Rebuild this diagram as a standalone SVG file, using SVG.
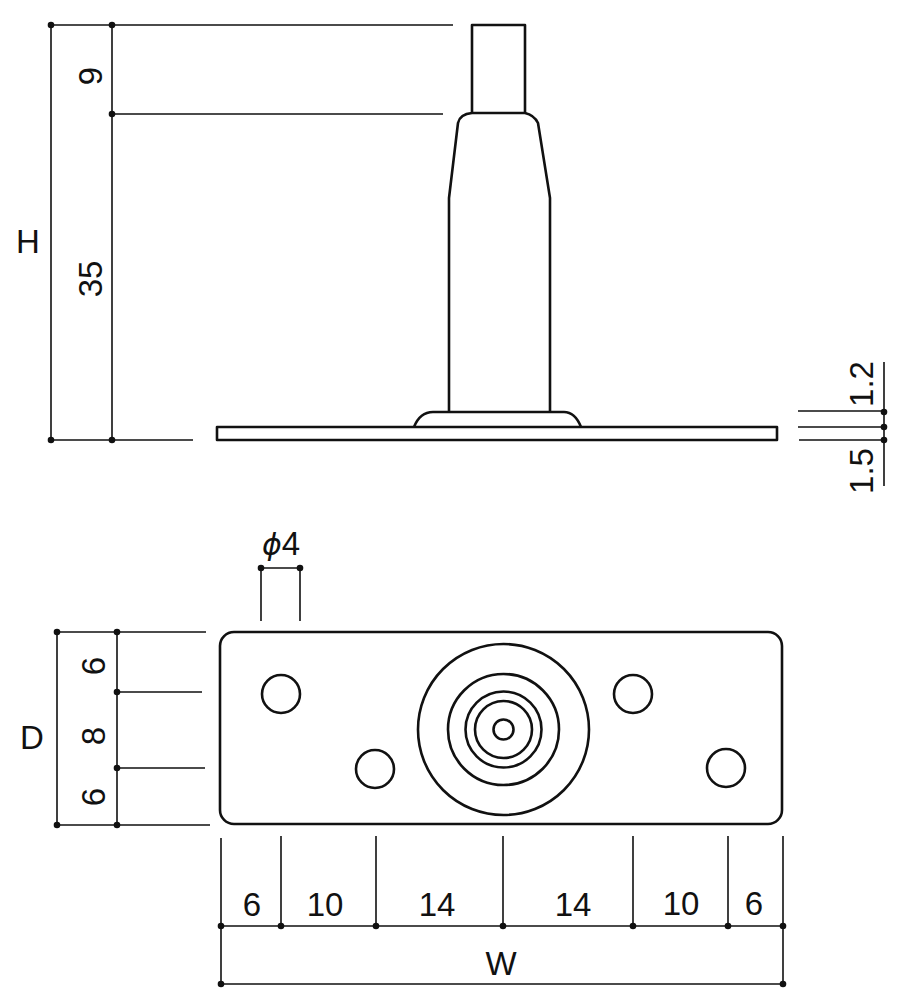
<svg xmlns="http://www.w3.org/2000/svg" width="901" height="1000" viewBox="0 0 901 1000">
<defs><style>
.o{fill:none;stroke:#111;stroke-width:2.6;stroke-linejoin:round}
.d{fill:none;stroke:#111;stroke-width:1.6}
.p{fill:#111;stroke:none}
text{font-family:"Liberation Sans",Arial,sans-serif;fill:#111;font-size:33px;text-anchor:middle}
</style></defs>
<rect width="901" height="1000" fill="#fff"/>
<g id="side-view">
<path class="o" d="M472 113V25H525V113"/>
<path class="o" d="M472 113H525Q534 115 538 123L550 198V412M472 113Q460 114 458 123L449 198V412"/>
<path class="o" d="M414 427Q420 412 433 412H564Q575 412 581 427"/>
<rect class="o" x="217" y="427" width="560" height="13"/>
</g>
<g id="top-view">
<rect class="o" x="220" y="632" width="562" height="192" rx="14"/>
<circle class="o" cx="503.5" cy="729.5" r="85.5"/>
<circle class="o" cx="503.5" cy="729.5" r="55.5"/>
<circle class="o" cx="503.5" cy="729.5" r="38"/>
<circle class="o" cx="503.5" cy="729.5" r="28.5"/>
<circle class="o" cx="503.5" cy="729.5" r="10"/>
<circle class="o" cx="281" cy="694" r="19"/>
<circle class="o" cx="633" cy="694" r="19"/>
<circle class="o" cx="375" cy="769" r="19"/>
<circle class="o" cx="726" cy="768" r="19"/>
</g>
<g id="connectors">
<path class="d" d="M51 25H453M112 25V440M51 25V440M112 114H443M51 440H193"/>
<path class="d" d="M798 411H884M798 427H884M799 440H884M884 362V486"/>
<path class="d" d="M261 568H300M261 568V621M300 568V621"/>
<path class="d" d="M57 632H206M117 632V825M57 632V825M117 692H202M117 768H205M57 825H210"/>
<path class="d" d="M221 838V984M281 836V926M376 836V926M503 836V926M633 836V926M728 836V926M783 836V984M221 926H783M221 984H783"/>
</g>
<g id="dimension-points" class="p">
<circle cx="51" cy="25" r="3.3"/><circle cx="112" cy="25" r="3.3"/><circle cx="112" cy="114" r="3.3"/><circle cx="51" cy="440" r="3.3"/><circle cx="112" cy="440" r="3.3"/>
<circle cx="884" cy="412" r="3.3"/><circle cx="884" cy="427" r="3.3"/><circle cx="884" cy="440" r="3.3"/>
<circle cx="261" cy="568" r="3.3"/><circle cx="300" cy="568" r="3.3"/>
<circle cx="57" cy="632" r="3.3"/><circle cx="117" cy="632" r="3.3"/><circle cx="117" cy="692" r="3.3"/><circle cx="117" cy="768" r="3.3"/><circle cx="57" cy="825" r="3.3"/><circle cx="117" cy="825" r="3.3"/>
<circle cx="221" cy="926" r="3.3"/><circle cx="281" cy="926" r="3.3"/><circle cx="376" cy="926" r="3.3"/><circle cx="503" cy="926" r="3.3"/><circle cx="633" cy="926" r="3.3"/><circle cx="728" cy="926" r="3.3"/><circle cx="783" cy="926" r="3.3"/>
<circle cx="221" cy="984" r="3.3"/><circle cx="783" cy="984" r="3.3"/>
</g>
<g id="labels">
<text x="28" y="253" font-size="37">H</text>
<text x="32" y="749" font-size="37">D</text>
<text x="501" y="975" font-size="37">W</text>
<text transform="translate(102,76) rotate(-90)">9</text>
<text transform="translate(102,279) rotate(-90)">35</text>
<text transform="translate(873,384) rotate(-90)">1.2</text>
<text transform="translate(873,471) rotate(-90)">1.5</text>
<text transform="translate(105,666) rotate(-90)">6</text>
<text transform="translate(105,736) rotate(-90)">8</text>
<text transform="translate(105,797) rotate(-90)">6</text>
<text x="252" y="916">6</text>
<text x="325" y="916">10</text>
<text x="437" y="916">14</text>
<text x="573" y="916">14</text>
<text x="681" y="915">10</text>
<text x="754" y="915">6</text>
<text x="281" y="555"><tspan font-family="'DejaVu Sans',sans-serif" font-style="italic" font-size="30">ϕ</tspan>4</text>
</g>
</svg>
